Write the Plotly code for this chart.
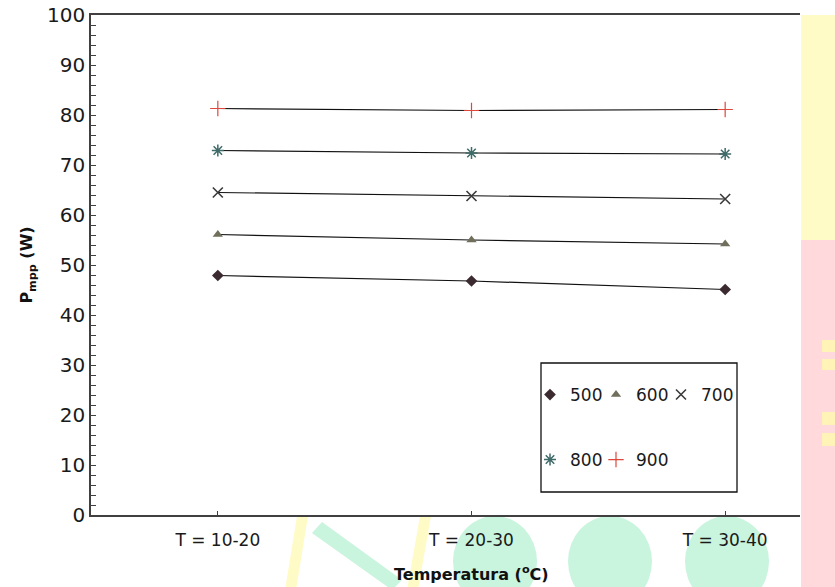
import plotly.graph_objects as go

# ---------------- data ----------------
categories = ["T = 10-20", "T = 20-30", "T = 30-40"]
series_names = ["500", "600", "700", "800", "900"]
p500 = [47.9, 46.8, 45.1]
p600 = [56.1, 55.0, 54.2]
p700 = [64.5, 63.8, 63.2]
p800 = [72.9, 72.4, 72.2]
p900 = [81.3, 80.9, 81.1]
y_ticks = [0, 10, 20, 30, 40, 50, 60, 70, 80, 90, 100]

series_values = [p500, p600, p700, p800, p900]

# ---------------- styles ----------------
FONT = "DejaVu Sans"
marker_styles = [
    dict(symbol="diamond", size=9, color="#3b2a30"),
    dict(symbol="triangle-up", size=9, color="#6f6f5c"),
    dict(symbol="x-thin-open", size=10, color="#3a3a3a", line=dict(width=1.6, color="#3a3a3a")),
    dict(symbol="asterisk-open", size=10, color="#3f6b68", line=dict(width=1.5, color="#3f6b68")),
    dict(symbol="cross-thin-open", size=11, color="#e0473c", line=dict(width=1.2, color="#e0473c")),
]
legend_ids = ["legend", "legend2", "legend3", "legend4", "legend5"]

# body margin is removed in the page (post_script), figure fills the window
W, H = 835, 587
# plot area in window pixels: x 91..800, y 15..515
L, T = 91, 15
R, B = 835 - 800, 587 - 515
pw, ph = W - L - R, H - T - B


def sx(x):
    """window pixel x -> paper fraction"""
    return (x - L) / pw


def sy(y):
    """window pixel y -> paper fraction"""
    return (H - B - y) / ph


fig = go.Figure()

# connecting lines (black)
for name, vals in zip(series_names, series_values):
    fig.add_trace(go.Scatter(
        x=categories, y=vals, mode="lines",
        line=dict(color="#111111", width=1.2),
        showlegend=False, hoverinfo="skip",
    ))

# markers (with legend entries)
for name, vals, ms, lg in zip(series_names, series_values, marker_styles, legend_ids):
    fig.add_trace(go.Scatter(
        x=categories, y=vals, mode="markers", name=name,
        marker=ms, legend=lg,
    ))

shapes = []
# legend frame
shapes.append(dict(type="rect", xref="paper", yref="paper",
                   x0=sx(541), x1=sx(737), y0=sy(492), y1=sy(363),
                   line=dict(color="#111111", width=1.3), fillcolor="white", layer="below"))

# background watermark (decorative)
wm_yellow = "#fffbc6"
wm_pink = "#ffd9dc"
wm_green = "#c9f4de"


def rect(x0, x1, y0, y1, color):
    return dict(type="rect", xref="paper", yref="paper", x0=sx(x0), x1=sx(x1),
                y0=sy(y1), y1=sy(y0), fillcolor=color, line=dict(width=0), layer="below")


shapes += [
    rect(801, 840, 15, 240, wm_yellow),
    rect(801, 840, 240, 590, wm_pink),
    rect(822, 840, 340, 352, "#fff3b8"),
    rect(822, 840, 359, 370, "#fff3b8"),
    rect(822, 840, 412, 425, "#fff3b8"),
    rect(822, 840, 433, 446, "#fff3b8"),
]
# slanted yellow stripes below the plot
for (xt, xb) in [(297, 285), (420, 407)]:
    path = "M {} {} L {} {} L {} {} L {} {} Z".format(
        sx(xt), sy(516), sx(xt + 11), sy(516),
        sx(xb + 11), sy(590), sx(xb), sy(590))
    shapes.append(dict(type="path", xref="paper", yref="paper", path=path,
                       fillcolor=wm_yellow, line=dict(width=0), layer="below"))
# green diagonal band
path = "M {} {} L {} {} L {} {} L {} {} Z".format(
    sx(312), sy(533), sx(322), sy(522),
    sx(402), sy(580), sx(392), sy(590))
shapes.append(dict(type="path", xref="paper", yref="paper", path=path,
                   fillcolor=wm_green, line=dict(width=0), layer="below"))
# green circles
for cx in [495, 610, 727]:
    shapes.append(dict(type="circle", xref="paper", yref="paper",
                       x0=sx(cx - 42), x1=sx(cx + 42), y0=sy(607), y1=sy(516),
                       fillcolor=wm_green, line=dict(width=0), layer="below"))

# legend positions (window px): left edge x, row centre y
legend_pos = [(530, 395), (596, 395), (661, 395), (530, 460), (596, 460)]
legend_layout = {}
for lg, (lx, ly) in zip(legend_ids, legend_pos):
    legend_layout[lg] = dict(
        x=sx(lx), y=sy(ly), xanchor="left", yanchor="middle", orientation="v",
        itemwidth=30, bgcolor="rgba(0,0,0,0)", borderwidth=0,
        font=dict(family=FONT, size=17, color="#1a1a1a"))

fig.update_layout(
    width=W, height=H,
    margin=dict(l=L, r=R, t=T, b=B, autoexpand=False),
    paper_bgcolor="white",
    plot_bgcolor="white",
    font=dict(family=FONT, color="#1a1a1a"),
    shapes=shapes,
    **legend_layout,
    annotations=[dict(
        text="<b>Temperatura (<sup>o</sup>C)</b>", xref="paper", yref="paper",
        x=sx(471), y=sy(574), xanchor="center", yanchor="middle", showarrow=False,
        font=dict(family=FONT, size=16, color="#111111"))],
    xaxis=dict(
        type="category", range=[-0.5, 2.295], automargin=False,
        showline=True, linecolor="#404040", linewidth=1.5, mirror=True,
        ticks="inside", ticklen=4, tickcolor="#404040",
        showgrid=False, zeroline=False, ticklabelstandoff=9,
        tickfont=dict(family=FONT, size=17, color="#1a1a1a"),
    ),
    yaxis=dict(
        range=[0, 100], tickvals=y_ticks, automargin=False, ticklabeloverflow="allow",
        showline=True, linecolor="#404040", linewidth=1.5,
        ticks="inside", ticklen=5, tickcolor="#404040",
        minor=dict(dtick=2, ticks="inside", ticklen=5, tickcolor="#404040", showgrid=False),
        showgrid=False, zeroline=False,
        tickfont=dict(family=FONT, size=20, color="#1a1a1a"),
        title=dict(text="<b>P<sub>mpp</sub> (W)</b>",
                   font=dict(family=FONT, size=16, color="#111111"), standoff=10),
    ),
)

fig.write_html("out.html", config={"displayModeBar": False},
               post_script="document.body.style.margin='0px';")
